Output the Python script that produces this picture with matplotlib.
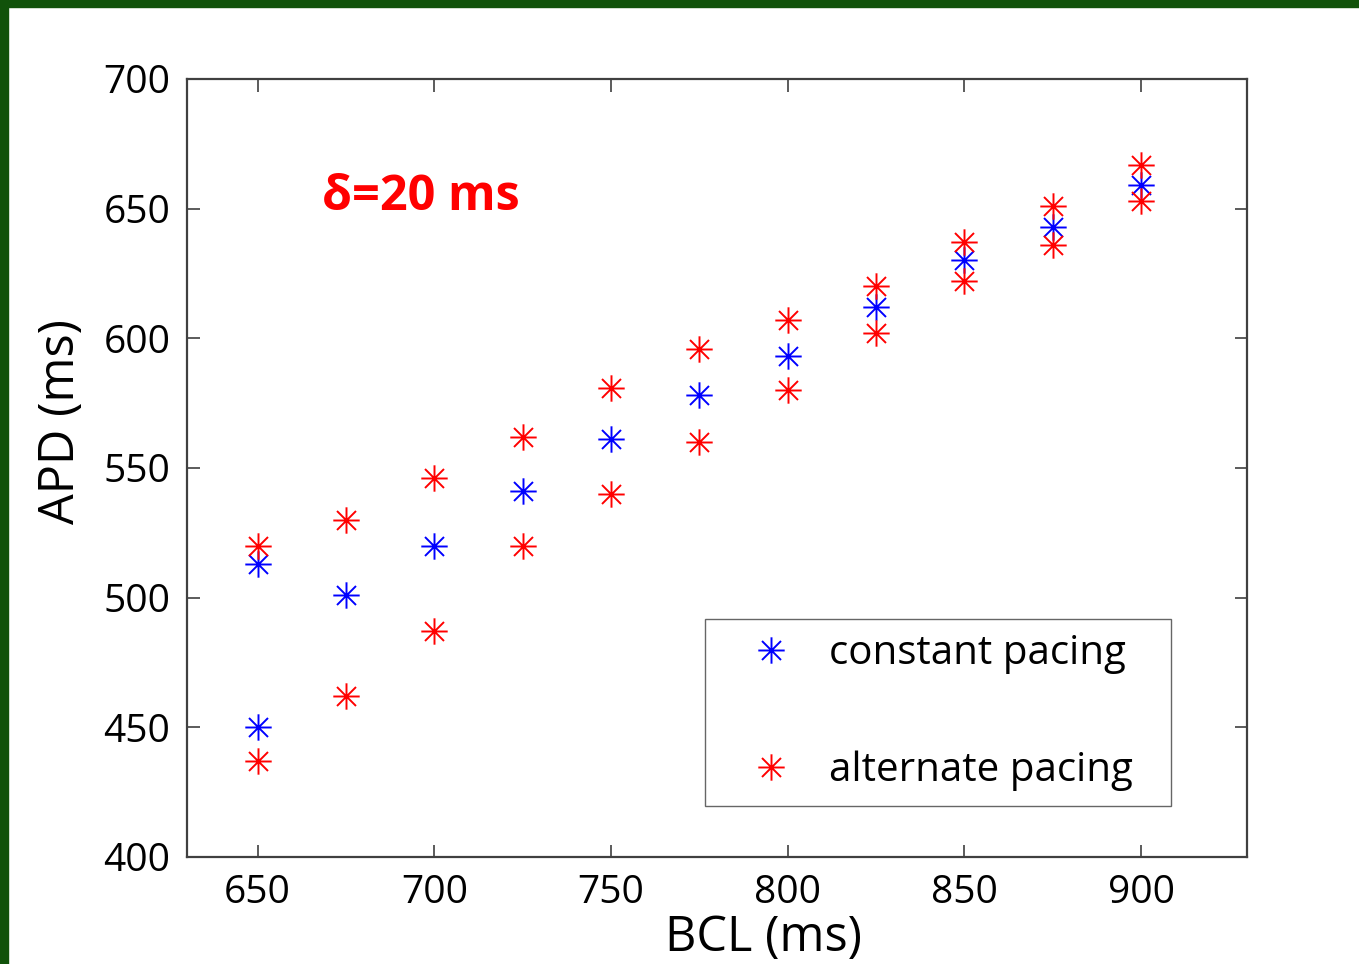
import matplotlib
matplotlib.use("Agg")
import matplotlib.pyplot as plt
from matplotlib.path import Path
from matplotlib.patches import Rectangle

plt.rcParams['font.family'] = ['Open Sans', 'DejaVu Sans']

# basic cycle length (ms)
bcl = [650, 675, 700, 725, 750, 775, 800, 825, 850, 875, 900]

# APD under constant pacing (two branches at 650 ms)
const_x = [650, 650, 675, 700, 725, 750, 775, 800, 825, 850, 875, 900]
const_apd = [513, 450, 501, 520, 541, 561, 578, 593, 612, 630, 643, 659]

# APD under alternate pacing: long and short beats
alt_long = [520, 530, 546, 562, 581, 596, 607, 620, 637, 651, 667]
alt_short = [437, 462, 487, 520, 540, 560, 580, 602, 622, 636, 653]

# 8-armed asterisk like MATLAB's '*'
d = 0.72
star = Path([(0, -1), (0, 1), (-1, 0), (1, 0),
             (-d, -d), (d, d), (-d, d), (d, -d)],
            [Path.MOVETO, Path.LINETO] * 4)

fig = plt.figure(figsize=(13.59, 9.64), dpi=100)
ax = fig.add_axes([0.1376, 0.1110, 0.7800, 0.8071])

mk = dict(marker=star, linestyle='none', markersize=19, markeredgewidth=1.4)
ax.plot(const_x, const_apd, color='#0000ff', label='constant pacing', **mk)
ax.plot(bcl + bcl, alt_long + alt_short, color='#ff0000', label='alternate pacing', **mk)

ax.set_xlim(630, 930)
ax.set_ylim(400, 700)
ax.set_xticks([650, 700, 750, 800, 850, 900])
ax.set_yticks([400, 450, 500, 550, 600, 650, 700])
ax.tick_params(direction='in', length=9, width=1.2, top=True, right=True,
               labelsize=28, pad=12, color='#404040')
for s in ax.spines.values():
    s.set_color('#404040')
    s.set_linewidth(1.6)

ax.set_xlabel('BCL (ms)', fontsize=35)
ax.xaxis.set_label_coords(0.544, -0.072)
ax.set_ylabel('APD (ms)', fontsize=35)
ax.yaxis.set_label_coords(-0.095, 0.56)

ax.text(0.127, 0.848, 'δ=20 ms', transform=ax.transAxes, color='#ff0000',
        fontsize=35, fontweight='bold', ha='left', va='center')

leg = ax.legend(loc='lower left', bbox_to_anchor=(0.4887, 0.0656, 0.4396, 0.2416),
                mode='expand', numpoints=1, fontsize=29, frameon=True, fancybox=False,
                borderpad=0.38, handlelength=2.5, handletextpad=0.2, labelspacing=1.88,
                borderaxespad=0)
leg.get_frame().set_edgecolor('#404040')
leg.get_frame().set_linewidth(1.0)

# dark green frame along the top and left edges
fig.patches.append(Rectangle((0, 1 - 7 / 964), 1, 7 / 964, transform=fig.transFigure,
                             color='#11520a', zorder=10))
fig.patches.append(Rectangle((0, 0), 8 / 1359, 1, transform=fig.transFigure,
                             color='#11520a', zorder=10))

fig.savefig('out.png', dpi=100)
